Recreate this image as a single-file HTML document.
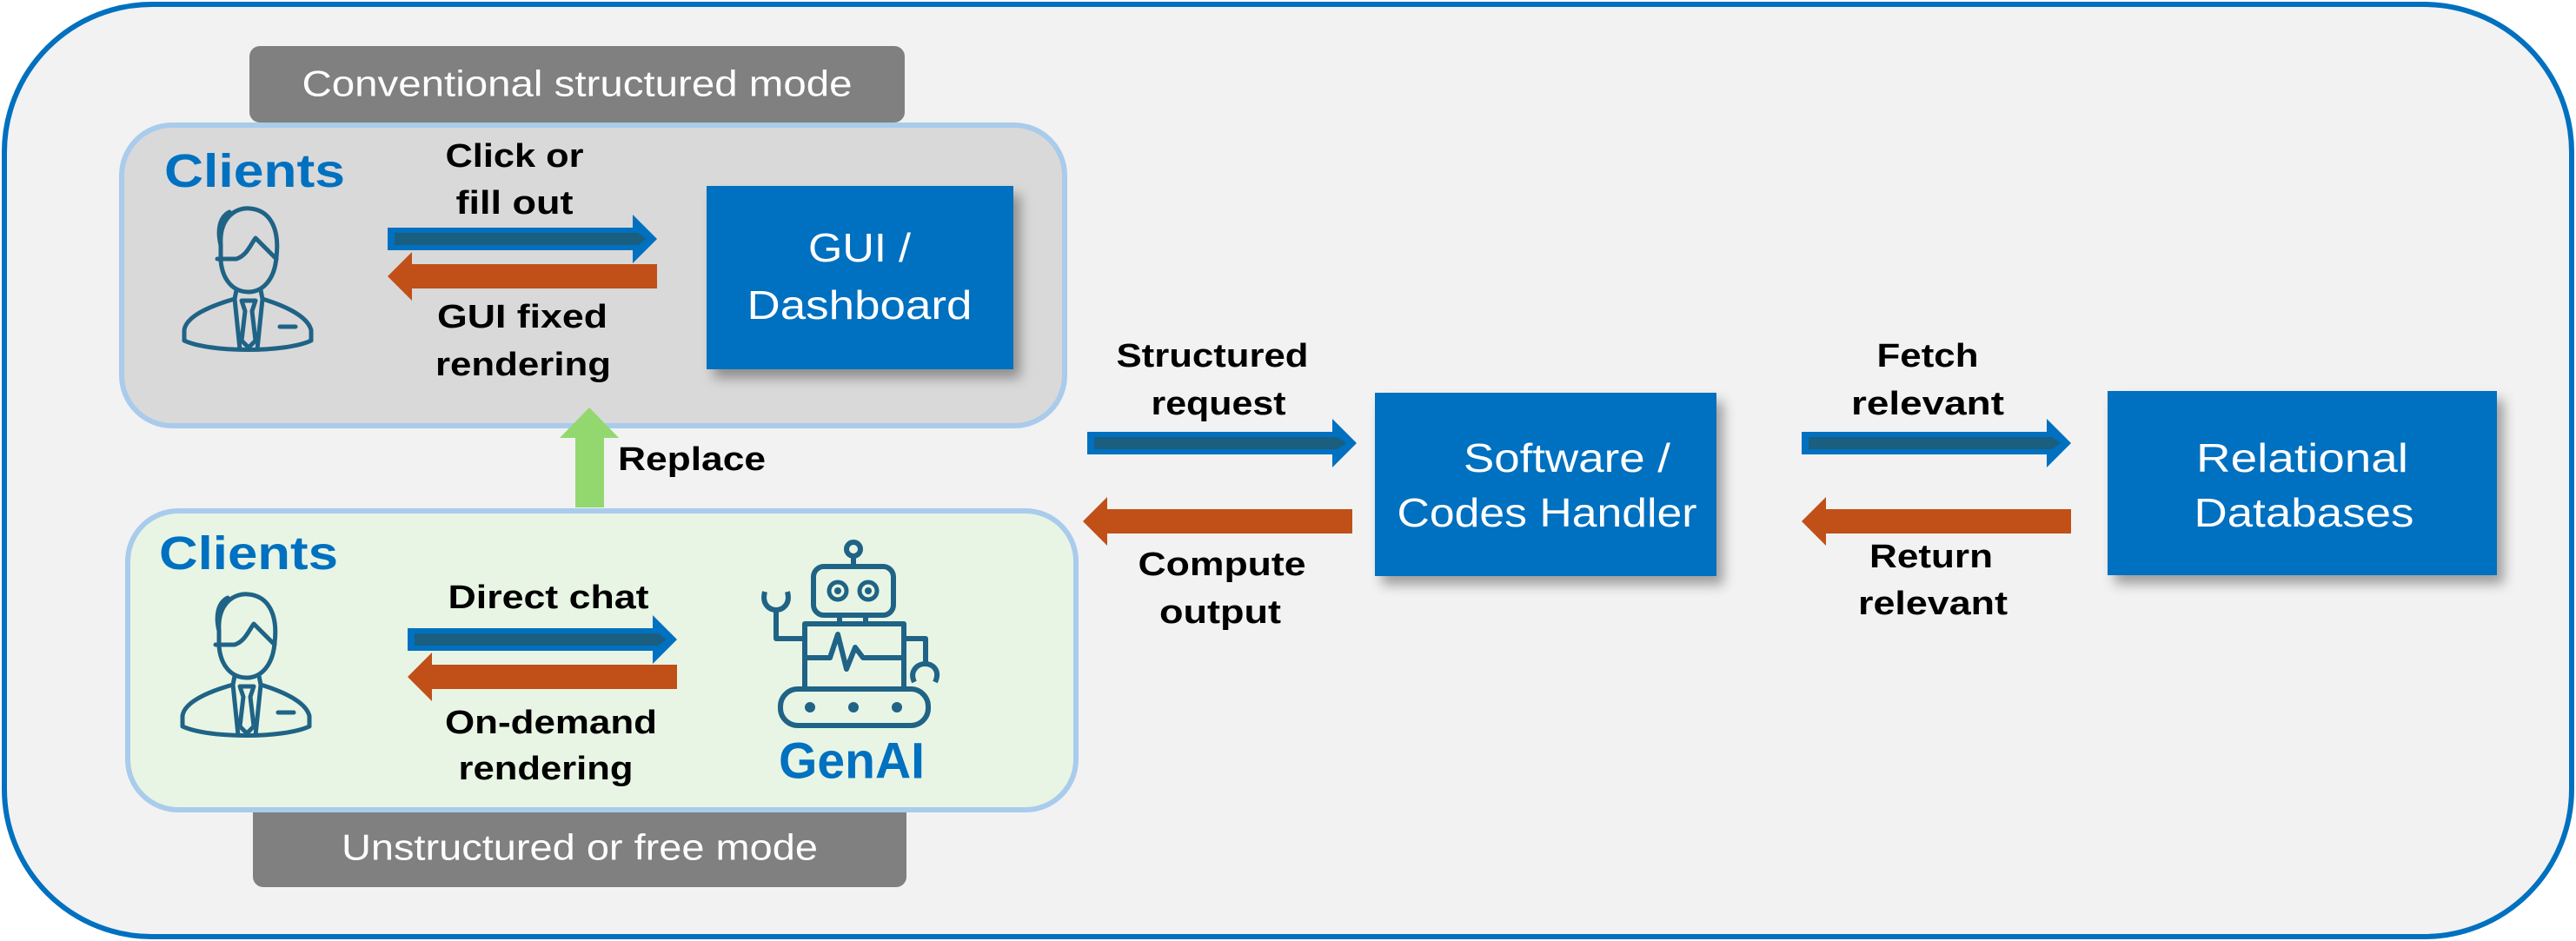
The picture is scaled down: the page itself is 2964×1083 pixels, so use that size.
<!DOCTYPE html>
<html><head><meta charset="utf-8"><style>
html,body{margin:0;padding:0;background:#fff}
svg{display:block}
text{font-family:"Liberation Sans Narrow","Liberation Sans",sans-serif;dominant-baseline:central;text-anchor:middle}
.b{font-weight:bold;font-size:38px;fill:#000}
.w{font-size:46px;fill:#fff}
.g{font-size:42px;fill:#fff}
.c{font-weight:bold;fill:#0070C0}
</style></head><body>
<svg width="2964" height="1083" viewBox="0 0 2964 1083" xmlns="http://www.w3.org/2000/svg">
<defs>
<filter id="sh" x="-10%" y="-10%" width="130%" height="140%"><feDropShadow dx="8" dy="10" stdDeviation="7" flood-color="#000" flood-opacity="0.35"/></filter>
<g id="ra"><polygon points="0,-13 282,-13 282,-28 310,0 282,28 282,13 0,13" fill="#0070C0"/><polygon points="8,-7 288,-7 298,0 288,7 8,7" fill="#1A5E80"/></g>
<g id="la"><polygon points="0,0 28,-28 28,-14 310,-14 310,14 28,14 28,28" fill="#C05018"/></g>
<g id="person" fill="none" stroke="#1F6386" stroke-width="5" stroke-linejoin="round" stroke-linecap="round">
<path d="M52,48 C50,16 70,4 86,6 C108,8 120,28 116,62 C114,88 100,102 84,102 C66,102 54,88 52,66 Z"/>
<path d="M52,48 C48,32 50,16 62,10 M48,64 L70,64 C82,60 86,48 92,40 C100,48 108,56 116,64"/>
<path d="M70,100 L68,110 C40,118 12,130 10,146 L10,158 C40,172 126,172 156,158 L156,146 C152,130 126,118 100,110 L98,100"/>
<path d="M68,110 L74,168 M100,110 L94,168"/>
<path d="M76,112 L92,112 L88,124 L92,158 L84,166 L76,158 L80,124 Z"/>
<path d="M120,142 L138,142"/>
</g>
</defs>
<rect x="5" y="5" width="2954" height="1073" rx="170" fill="#F2F2F2" stroke="#0070C0" stroke-width="6"/>
<!-- top group -->
<rect x="287" y="53" width="754" height="88" rx="12" fill="#808080"/>
<text class="g" x="664" y="96" textLength="633" lengthAdjust="spacingAndGlyphs">Conventional structured mode</text>
<rect x="140" y="144" width="1085" height="346" rx="58" fill="#D9D9D9" stroke="#A9CBEC" stroke-width="6"/>
<text class="c" x="293" y="197" font-size="54" textLength="208" lengthAdjust="spacingAndGlyphs">Clients</text>
<use href="#person" x="202" y="234"/>
<text class="b" x="592" y="180" textLength="159" lengthAdjust="spacingAndGlyphs">Click or</text>
<text class="b" x="592" y="234" textLength="135" lengthAdjust="spacingAndGlyphs">fill out</text>
<use href="#ra" x="446" y="275"/>
<use href="#la" x="446" y="318"/>
<text class="b" x="601" y="365" textLength="196" lengthAdjust="spacingAndGlyphs">GUI fixed</text>
<text class="b" x="602" y="420" textLength="202" lengthAdjust="spacingAndGlyphs">rendering</text>
<rect x="813" y="214" width="353" height="211" fill="#0070C0" filter="url(#sh)"/>
<text class="w" x="989" y="285" textLength="118" lengthAdjust="spacingAndGlyphs">GUI /</text>
<text class="w" x="989" y="351" textLength="259" lengthAdjust="spacingAndGlyphs">Dashboard</text>
<!-- replace arrow -->
<polygon points="678,469 712,504 695,504 695,584 662,584 662,504 644,504" fill="#92D86F"/>
<text class="b" x="796" y="529" textLength="170" lengthAdjust="spacingAndGlyphs">Replace</text>
<!-- bottom group -->
<rect x="291" y="920" width="752" height="101" rx="12" fill="#808080"/>
<rect x="147" y="588" width="1091" height="344" rx="58" fill="#E8F5E4" stroke="#A9CBEC" stroke-width="6"/>
<text class="g" x="667" y="975" textLength="548" lengthAdjust="spacingAndGlyphs">Unstructured or free mode</text>
<text class="c" x="286" y="637" font-size="54" textLength="206" lengthAdjust="spacingAndGlyphs">Clients</text>
<use href="#person" x="200" y="678"/>
<text class="b" x="631" y="688" textLength="231" lengthAdjust="spacingAndGlyphs">Direct chat</text>
<use href="#ra" x="469" y="736"/>
<use href="#la" x="469" y="779"/>
<text class="b" x="634" y="832" textLength="244" lengthAdjust="spacingAndGlyphs">On-demand</text>
<text class="b" x="628" y="885" textLength="201" lengthAdjust="spacingAndGlyphs">rendering</text>
<!-- robot -->
<g fill="none" stroke="#1F6386" stroke-width="6" stroke-linejoin="round">
<circle cx="982" cy="632" r="8"/>
<line x1="982" y1="640" x2="982" y2="652"/>
<rect x="936" y="652" width="92" height="56" rx="12"/>
<line x1="966" y1="708" x2="966" y2="718"/><line x1="996" y1="708" x2="996" y2="718"/>
<rect x="926" y="718" width="114" height="75"/>
<polyline points="928,757 955,757 964,730 974,770 984,745 993,757 1040,757"/>
<path d="M926,735 L893,735 L893,700"/>
<path d="M880,681 C876,696 886,702 893,702 C900,702 910,696 906,681"/>
<path d="M1040,735 L1065,735 L1065,765"/>
<path d="M1052,785 C1046,772 1056,764 1064,764 C1074,764 1082,772 1076,785"/>
<rect x="898" y="793" width="170" height="42" rx="20"/>
</g>
<g fill="none" stroke="#1F6386" stroke-width="5"><circle cx="964" cy="680" r="10"/><circle cx="999" cy="680" r="10"/></g>
<g fill="#1F6386"><circle cx="964" cy="680" r="4"/><circle cx="999" cy="680" r="4"/><circle cx="932" cy="814" r="6"/><circle cx="982" cy="814" r="6"/><circle cx="1032" cy="814" r="6"/></g>
<text class="c" x="980" y="876" font-size="58" textLength="168" lengthAdjust="spacingAndGlyphs">GenAI</text>
<!-- middle -->
<text class="b" x="1395" y="410" textLength="221" lengthAdjust="spacingAndGlyphs">Structured</text>
<text class="b" x="1402" y="465" textLength="155" lengthAdjust="spacingAndGlyphs">request</text>
<use href="#ra" x="1251" y="510"/>
<use href="#la" x="1246" y="600"/>
<text class="b" x="1406" y="650" textLength="193" lengthAdjust="spacingAndGlyphs">Compute</text>
<text class="b" x="1404" y="705" textLength="140" lengthAdjust="spacingAndGlyphs">output</text>
<rect x="1582" y="452" width="393" height="211" fill="#0070C0" filter="url(#sh)"/>
<text class="w" x="1803" y="527" textLength="238" lengthAdjust="spacingAndGlyphs">Software /</text>
<text class="w" x="1780" y="590" textLength="345" lengthAdjust="spacingAndGlyphs">Codes Handler</text>
<!-- right -->
<text class="b" x="2218" y="410" textLength="117" lengthAdjust="spacingAndGlyphs">Fetch</text>
<text class="b" x="2218" y="465" textLength="176" lengthAdjust="spacingAndGlyphs">relevant</text>
<use href="#ra" x="2073" y="510"/>
<use href="#la" x="2073" y="600"/>
<text class="b" x="2222" y="641" textLength="142" lengthAdjust="spacingAndGlyphs">Return</text>
<text class="b" x="2224" y="695" textLength="172" lengthAdjust="spacingAndGlyphs">relevant</text>
<rect x="2425" y="450" width="448" height="212" fill="#0070C0" filter="url(#sh)"/>
<text class="w" x="2649" y="527" textLength="244" lengthAdjust="spacingAndGlyphs">Relational</text>
<text class="w" x="2651" y="590" textLength="253" lengthAdjust="spacingAndGlyphs">Databases</text>
</svg>
</body></html>
